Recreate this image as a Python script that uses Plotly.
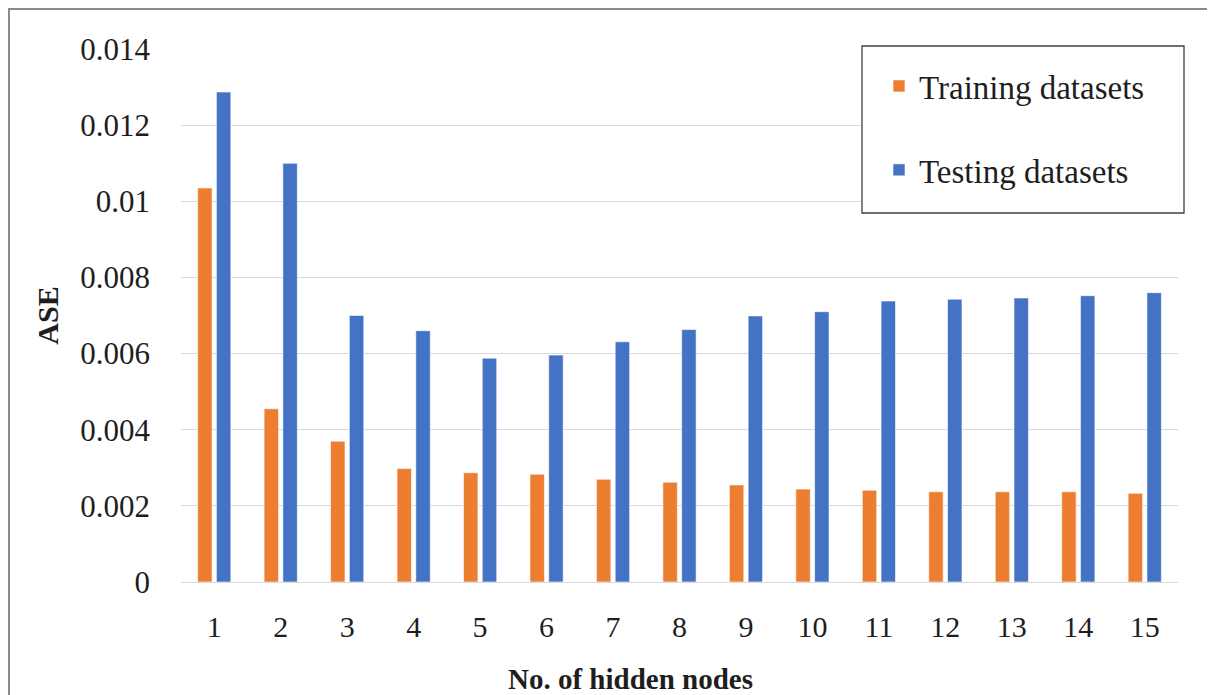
import plotly.graph_objects as go

# ---- data ----
hidden_nodes = [str(i) for i in range(1, 16)]
training_ase = [0.01035, 0.00455, 0.00370, 0.00298, 0.00287, 0.00283, 0.00270,
                0.00262, 0.00255, 0.00244, 0.00241, 0.00237, 0.00237, 0.00237, 0.00233]
testing_ase = [0.01287, 0.01100, 0.00700, 0.00660, 0.00588, 0.00596, 0.00631,
               0.00663, 0.00699, 0.00710, 0.00738, 0.00743, 0.00746, 0.00752, 0.00760]
y_ticks = [0, 0.002, 0.004, 0.006, 0.008, 0.01, 0.012, 0.014]
y_tick_text = ["0", "0.002", "0.004", "0.006", "0.008", "0.01", "0.012", "0.014"]

OFF = 8  # page body margin
W, H = 1215 - OFF, 695 - OFF
L, R, T, B = 181, 1178, 49, 582  # plot area in screen pixels


def px_x(p):
    return (p - L) / (R - L)


def px_y(p):
    return (B - p) / (B - T)


FONT = "Liberation Serif"
TXT = "#1e1e1e"

fig = go.Figure()
fig.add_trace(go.Bar(
    x=hidden_nodes, y=training_ase, name="Training datasets",
    marker=dict(color="#ED7D31", line=dict(color="rgba(255,255,255,0.6)", width=1)),
    legendgroup="a",
))
fig.add_trace(go.Bar(
    x=hidden_nodes, y=testing_ase, name="Testing datasets",
    marker=dict(color="#4472C4", line=dict(color="rgba(255,255,255,0.6)", width=1)),
    legendgroup="b",
))

# outer chart frame (top and left visible)
fig.add_shape(type="rect", xref="paper", yref="paper",
              x0=px_x(9), x1=px_x(1230), y0=px_y(710), y1=px_y(9),
              line=dict(color="#8a8a8a", width=2), fillcolor="rgba(0,0,0,0)", layer="below")
# legend box
fig.add_shape(type="rect", xref="paper", yref="paper",
              x0=px_x(862), x1=px_x(1184), y0=px_y(213), y1=px_y(46),
              line=dict(color="#404040", width=1.3), fillcolor="white", layer="above")

fig.add_annotation(text="<b>No. of hidden nodes</b>", xref="paper", yref="paper",
                   x=px_x(630), y=px_y(679), xanchor="center", yanchor="middle",
                   showarrow=False, font=dict(family=FONT, size=29, color=TXT))

fig.update_layout(
    width=W, height=H,
    margin=dict(l=L - OFF, r=W - (R - OFF), t=T - OFF, b=H - (B - OFF), pad=0),
    paper_bgcolor="white", plot_bgcolor="white",
    barmode="group", bargap=0.435, bargroupgap=0.23,
    font=dict(family=FONT, size=30, color=TXT),
    legend=dict(
        x=px_x(879), y=px_y(58), xanchor="left", yanchor="top",
        bgcolor="rgba(0,0,0,0)", borderwidth=0,
        font=dict(family=FONT, size=33, color=TXT),
        traceorder="grouped", tracegroupgap=38,
    ),
    showlegend=True,
)
fig.update_xaxes(
    type="category", showgrid=False, showline=False, zeroline=False,
    ticks="", ticklabelstandoff=24,
    tickfont=dict(family=FONT, size=30, color=TXT),
)
fig.update_yaxes(
    range=[0, 0.014], tickvals=y_ticks, ticktext=y_tick_text,
    showgrid=True, gridcolor="#d9d9d9", gridwidth=1.3,
    zeroline=True, zerolinecolor="#d9d9d9", zerolinewidth=1.3,
    showline=False, ticks="", ticklabelstandoff=30,
    tickfont=dict(family=FONT, size=31, color=TXT),
    title=dict(text="<b>ASE</b>", font=dict(family=FONT, size=30, color=TXT), standoff=12),
)

fig.write_html("out.html")
